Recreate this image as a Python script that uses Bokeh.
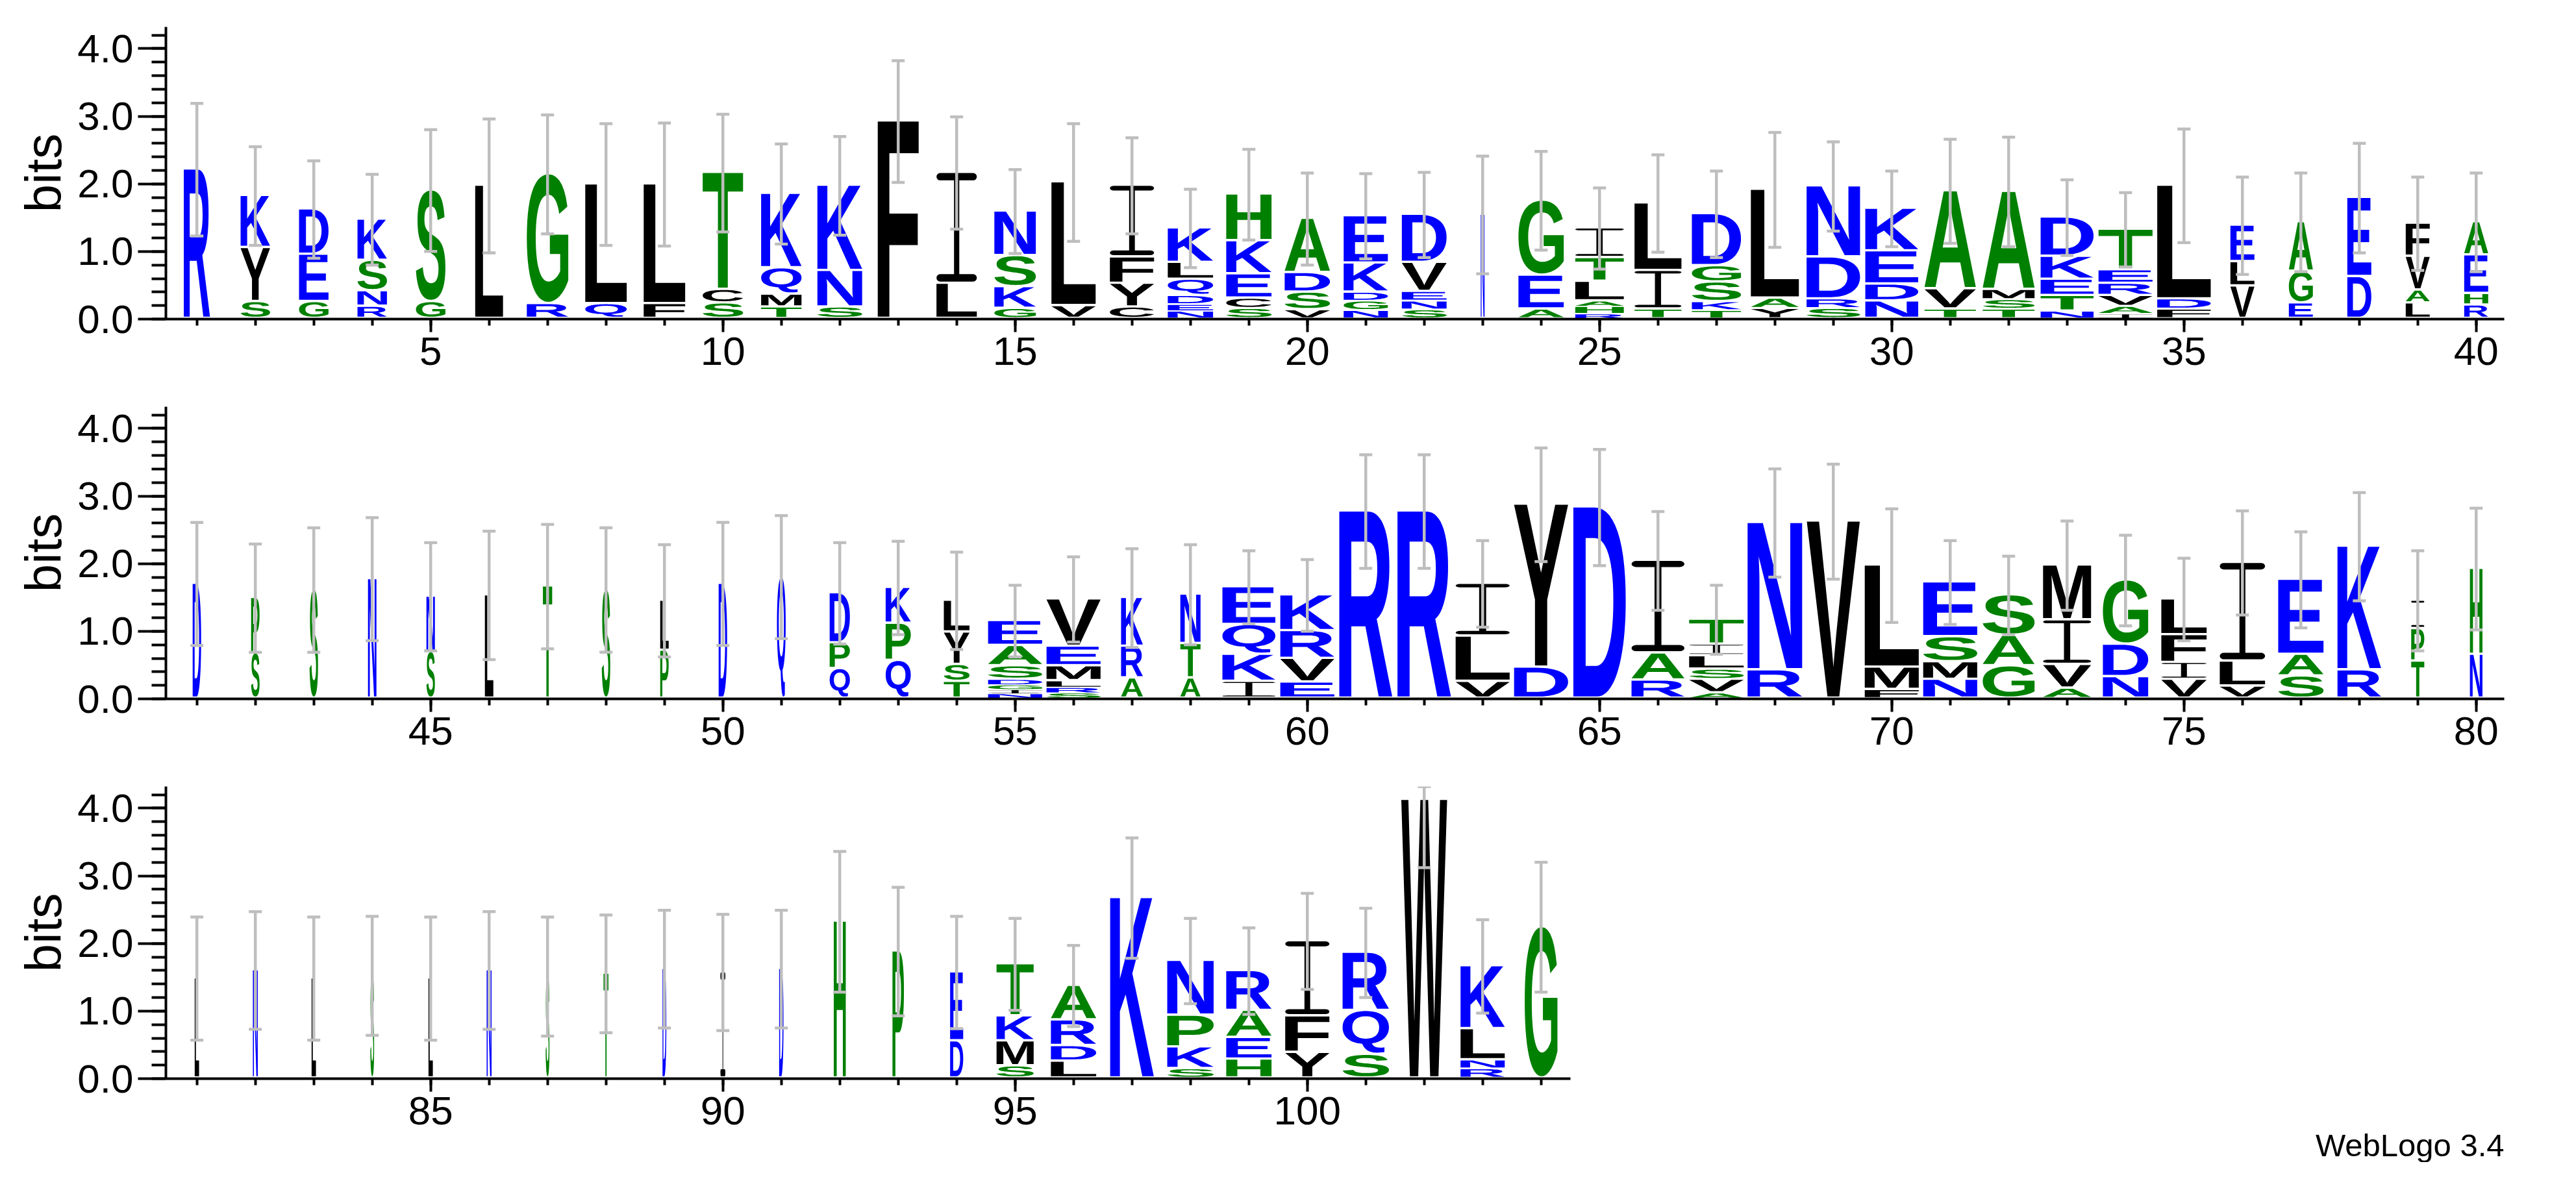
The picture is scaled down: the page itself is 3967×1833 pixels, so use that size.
import os, glob, struct, subprocess, math
import numpy as np
from bokeh.plotting import figure
from bokeh.layouts import column
from bokeh.models import (Range1d, SingleIntervalTicker, PrintfTickFormatter,
                          ColumnDataSource, Title)
from bokeh.embed import file_html
from bokeh.resources import INLINE

# ---------------------------------------------------------------- data
POSITIONS = list(range(1, 105))

# letters of each stack, bottom to top
STACK_LETTERS = [
    "R", "SYK", "GED", "RNSK", "GS", "L", "RG", "QL", "FL", "SCT",
    "TMQK", "SNK", "F", "LI", "GKSN", "VL", "CYFI", "NEDQLK", "SCEKH", "VSDA",
    "NGDKE", "SNEVD", "N", "AEG", "RHALTI", "TIL", "TKSGD", "YAL", "SRDN", "NDEK",
    "TVA", "TSMA", "NTEKD", "IAVRET", "FDL", "VLE", "EGA", "DE", "LAVF", "RHEA",
    "D", "SP", "S", "N", "SN", "L", "T", "S", "PL", "D",
    "Q", "QPD", "QPK", "TSYL", "NIGDSAE", "SRLMEV", "ARK", "ATN", "IKQE", "EVRK",
    "R", "R", "VLI", "DY", "D", "RAI", "AVSLIT", "RN", "V", "FML",
    "NMSE", "GAS", "AVIM", "NDG", "VIFL", "VLI", "SAE", "RK", "TPI", "NH",
    "L", "N", "L", "S", "L", "N", "S", "T", "D", "I",
    "D", "H", "P", "DE", "SMKT", "LDRA", "K", "SKPN", "HEAR", "YFI",
    "SQR", "W", "RNLK", "G",
]

# information (bits) of each letter, same order
STACK_HEIGHTS = [
    [2.21], [0.25, 0.80, 0.77], [0.25, 0.70, 0.67], [0.18, 0.23, 0.45, 0.61], [0.25, 1.65],
    [1.97], [0.22, 1.92], [0.22, 1.77], [0.22, 1.77], [0.23, 0.20, 1.73],
    [0.17, 0.19, 0.39, 1.10], [0.17, 0.54, 1.26], [2.92], [0.52, 1.64], [0.15, 0.32, 0.46, 0.66],
    [0.19, 1.83], [0.17, 0.35, 0.39, 1.06], [0.11, 0.10, 0.13, 0.24, 0.25, 0.51],
    [0.15, 0.15, 0.36, 0.49, 0.69], [0.13, 0.26, 0.29, 0.80],
    [0.12, 0.14, 0.13, 0.43, 0.70], [0.13, 0.13, 0.14, 0.43, 0.71], [1.54], [0.14, 0.50, 1.11],
    [0.07, 0.11, 0.08, 0.29, 0.35, 0.44], [0.14, 0.57, 1.00], [0.12, 0.13, 0.29, 0.24, 0.77],
    [0.15, 0.15, 1.61], [0.15, 0.14, 0.62, 1.05], [0.26, 0.25, 0.49, 0.63],
    [0.14, 0.30, 1.45], [0.14, 0.14, 0.15, 1.45], [0.11, 0.23, 0.24, 0.34, 0.58],
    [0.07, 0.11, 0.16, 0.18, 0.20, 0.60], [0.14, 0.15, 1.68], [0.48, 0.36, 0.54],
    [0.23, 0.47, 0.73], [0.62, 1.17], [0.23, 0.19, 0.50, 0.49], [0.20, 0.17, 0.57, 0.49],
    [1.70], [0.67, 0.82], [1.61], [1.77], [0.69, 0.82], [1.53], [1.66], [1.61], [0.71, 0.74], [1.70],
    [1.80], [0.44, 0.38, 0.74], [0.56, 0.55, 0.53], [0.25, 0.25, 0.48, 0.47],
    [0.07, 0.06, 0.07, 0.08, 0.20, 0.30, 0.37], [0.08, 0.08, 0.10, 0.22, 0.29, 0.70],
    [0.30, 0.47, 0.72], [0.30, 0.51, 0.73], [0.25, 0.40, 0.44, 0.56], [0.24, 0.35, 0.41, 0.53],
    [2.77], [2.77], [0.25, 0.67, 0.78], [0.46, 2.41], [2.83], [0.27, 0.40, 1.37],
    [0.08, 0.20, 0.15, 0.20, 0.17, 0.37], [0.42, 2.18], [2.62], [0.13, 0.33, 1.51],
    [0.28, 0.26, 0.37, 0.81], [0.48, 0.45, 0.60], [0.15, 0.35, 0.66, 0.81], [0.32, 0.48, 0.95],
    [0.28, 0.25, 0.41, 0.53], [0.18, 0.37, 1.46], [0.33, 0.32, 1.11], [0.42, 1.83],
    [0.55, 0.48, 0.42], [0.65, 1.27],
    [1.48], [1.60], [1.48], [1.52], [1.48], [1.60], [1.51], [1.55], [1.62], [1.57],
    [1.62], [2.32], [1.88], [0.55, 1.02], [0.18, 0.37, 0.37, 0.77], [0.25, 0.23, 0.38, 0.51],
    [2.67], [0.14, 0.32, 0.47, 0.81], [0.28, 0.32, 0.40, 0.59], [0.38, 0.54, 1.11],
    [0.35, 0.65, 0.86], [4.12], [0.14, 0.13, 0.46, 0.93], [2.24],
]

# relative stack width (fraction of non-gap symbols)
STACK_WIDTH = [
    0.48, 0.54, 0.54, 0.54, 0.54, 0.51, 0.76, 0.76, 0.76, 0.74,
    0.74, 0.82, 0.75, 0.74, 0.76, 0.81, 0.81, 0.83, 0.83, 0.83,
    0.81, 0.82, 0.07, 0.83, 0.89, 0.86, 0.90, 0.88, 0.98, 0.97,
    0.94, 0.95, 0.97, 0.99, 0.98, 0.44, 0.44, 0.44, 0.44, 0.44,
    0.155, 0.155, 0.155, 0.155, 0.155, 0.155, 0.17, 0.155, 0.155, 0.155,
    0.16, 0.37, 0.46, 0.47, 0.99, 0.99, 0.40, 0.37, 0.97, 0.99,
    0.97, 0.98, 0.99, 0.99, 0.96, 0.97, 1.00, 1.00, 0.97, 0.99,
    0.99, 0.95, 0.88, 0.83, 0.83, 0.83, 0.83, 0.80, 0.24, 0.23,
    0.08, 0.09, 0.08, 0.07, 0.08, 0.09, 0.07, 0.09, 0.07, 0.09,
    0.08, 0.22, 0.21, 0.24, 0.68, 0.83, 0.80, 0.85, 0.83, 0.81,
    0.85, 0.84, 0.81, 0.60,
]

# half length of the error bar (bits)
ERROR_BITS = [
    0.98, 0.73, 0.72, 0.67, 0.90, 0.99, 0.88, 0.90, 0.91, 0.87,
    0.74, 0.73, 0.90, 0.83, 0.62, 0.87, 0.71, 0.58, 0.67, 0.68,
    0.63, 0.63, 0.87, 0.73, 0.60, 0.72, 0.64, 0.85, 0.66, 0.56,
    0.77, 0.81, 0.56, 0.55, 0.84, 0.72, 0.73, 0.81, 0.69, 0.73,
    0.91, 0.80, 0.92, 0.91, 0.80, 0.95, 0.92, 0.92, 0.83, 0.91,
    0.91, 0.75, 0.69, 0.72, 0.53, 0.63, 0.73, 0.74, 0.54, 0.53,
    0.84, 0.84, 0.64, 0.84, 0.86, 0.73, 0.51, 0.80, 0.85, 0.84,
    0.62, 0.58, 0.66, 0.67, 0.61, 0.77, 0.71, 0.80, 0.74, 0.90,
    0.91, 0.87, 0.91, 0.88, 0.91, 0.87, 0.88, 0.87, 0.87, 0.86,
    0.87, 1.04, 0.95, 0.83, 0.68, 0.60, 0.89, 0.63, 0.64, 0.71,
    0.66, 1.00, 0.69, 0.96,
]

COLOR_GROUPS = {"RKDENQ": "#0000FF", "SGHTAP": "#008000", "YVMCLFIW": "#000000"}
Y_MAX = 4.32
ROW_RANGES = [(0.47, 40.48), (40.47, 80.48), (80.47, 120.48)]
ROW_SLICES = [(0, 40), (40, 80), (80, 104)]
CREDIT = "WebLogo 3.4"


def color_of(ch):
    for k, c in COLOR_GROUPS.items():
        if ch in k:
            return c
    return "#000000"


# ---------------------------------------------------------------- font outlines
def find_font():
    pats = ["/usr/share/fonts/**/LiberationSans-Bold.ttf",
            "/usr/local/share/fonts/**/LiberationSans-Bold.ttf",
            os.path.expanduser("~/.fonts/**/LiberationSans-Bold.ttf"),
            os.path.expanduser("~/.local/share/fonts/**/LiberationSans-Bold.ttf")]
    for pat in pats:
        r = sorted(glob.glob(pat, recursive=True))
        if r:
            return r[0]
    try:
        out = subprocess.run(["fc-match", "-f", "%{file}", "Liberation Sans:style=Bold"],
                             capture_output=True, text=True, timeout=20).stdout.strip()
        if out and os.path.exists(out) and out.lower().endswith(".ttf"):
            return out
    except Exception:
        pass
    for pat in ["/usr/share/fonts/**/DejaVuSans-Bold.ttf", "/usr/share/fonts/**/*Bold.ttf"]:
        r = sorted(glob.glob(pat, recursive=True))
        if r:
            return r[0]
    return None


class TTF:
    def __init__(self, path):
        d = open(path, "rb").read()
        self.d = d
        n = struct.unpack(">H", d[4:6])[0]
        self.t = {}
        for i in range(n):
            tag, cs, off, ln = struct.unpack(">4sIII", d[12 + 16 * i:28 + 16 * i])
            self.t[tag.decode("latin1")] = off
        h = self.t["head"]
        self.locfmt = struct.unpack(">h", d[h + 50:h + 52])[0]
        m = self.t["maxp"]
        self.ng = struct.unpack(">H", d[m + 4:m + 6])[0]
        lo = self.t["loca"]
        if self.locfmt == 0:
            self.loca = [2 * x for x in struct.unpack(">%dH" % (self.ng + 1), d[lo:lo + 2 * (self.ng + 1)])]
        else:
            self.loca = list(struct.unpack(">%dI" % (self.ng + 1), d[lo:lo + 4 * (self.ng + 1)]))
        self.glyf = self.t["glyf"]

    def gid(self, ch):
        d = self.d
        base = self.t["cmap"]
        n = struct.unpack(">H", d[base + 2:base + 4])[0]
        sub = None
        for i in range(n):
            pid, eid, off = struct.unpack(">HHI", d[base + 4 + 8 * i:base + 12 + 8 * i])
            fmt = struct.unpack(">H", d[base + off:base + off + 2])[0]
            if fmt == 4 and ((pid == 3 and eid == 1) or pid == 0):
                sub = base + off
                break
        s = sub
        segx2 = struct.unpack(">H", d[s + 6:s + 8])[0]
        seg = segx2 // 2
        ends = struct.unpack(">%dH" % seg, d[s + 14:s + 14 + segx2])
        starts = struct.unpack(">%dH" % seg, d[s + 16 + segx2:s + 16 + 2 * segx2])
        deltas = struct.unpack(">%dh" % seg, d[s + 16 + 2 * segx2:s + 16 + 3 * segx2])
        rp = s + 16 + 3 * segx2
        roffs = struct.unpack(">%dH" % seg, d[rp:rp + segx2])
        c = ord(ch)
        for k in range(seg):
            if starts[k] <= c <= ends[k]:
                if roffs[k] == 0:
                    return (c + deltas[k]) & 0xFFFF
                addr = rp + 2 * k + roffs[k] + 2 * (c - starts[k])
                g = struct.unpack(">H", d[addr:addr + 2])[0]
                return (g + deltas[k]) & 0xFFFF if g else 0
        return 0

    def contours(self, g, dx=0, dy=0):
        d = self.d
        if self.loca[g + 1] == self.loca[g]:
            return []
        off = self.glyf + self.loca[g]
        nc = struct.unpack(">h", d[off:off + 2])[0]
        if nc < 0:
            res = []
            p = off + 10
            while True:
                flags, cg = struct.unpack(">HH", d[p:p + 4]); p += 4
                if flags & 1:
                    a1, a2 = struct.unpack(">hh", d[p:p + 4]); p += 4
                else:
                    a1, a2 = struct.unpack(">bb", d[p:p + 2]); p += 2
                if flags & 8:
                    p += 2
                elif flags & 0x40:
                    p += 4
                elif flags & 0x80:
                    p += 8
                ox, oy = (a1, a2) if flags & 2 else (0, 0)
                res += self.contours(cg, dx + ox, dy + oy)
                if not flags & 0x20:
                    break
            return res
        p = off + 10
        ends = struct.unpack(">%dH" % nc, d[p:p + 2 * nc]); p += 2 * nc
        il = struct.unpack(">H", d[p:p + 2])[0]; p += 2 + il
        npts = ends[-1] + 1
        flags = []
        while len(flags) < npts:
            f = d[p]; p += 1
            flags.append(f)
            if f & 8:
                r = d[p]; p += 1
                flags.extend([f] * r)
        flags = flags[:npts]
        xs = []
        x = 0
        for f in flags:
            if f & 2:
                v = d[p]; p += 1
                x += v if f & 16 else -v
            elif not f & 16:
                x += struct.unpack(">h", d[p:p + 2])[0]; p += 2
            xs.append(x + dx)
        ys = []
        y = 0
        for f in flags:
            if f & 4:
                v = d[p]; p += 1
                y += v if f & 32 else -v
            elif not f & 32:
                y += struct.unpack(">h", d[p:p + 2])[0]; p += 2
            ys.append(y + dy)
        res = []
        st = 0
        for e in ends:
            pts = [(xs[i], ys[i], bool(flags[i] & 1)) for i in range(st, e + 1)]
            st = e + 1
            fl = flatten(pts)
            if fl and len(fl) >= 3:
                res.append(np.array(fl, dtype=float))
        return res


def flatten(pts, steps=7):
    n = len(pts)
    if n == 0:
        return None
    exp = []
    for i in range(n):
        x, y, o = pts[i]
        exp.append((x, y, o))
        nx, ny, no = pts[(i + 1) % n]
        if not o and not no:
            exp.append(((x + nx) / 2.0, (y + ny) / 2.0, True))
    k = next((i for i, q in enumerate(exp) if q[2]), None)
    if k is None:
        return None
    exp = exp[k:] + exp[:k]
    m = len(exp)
    out = []
    i = 0
    while i < m:
        x, y, _ = exp[i]
        out.append((x, y))
        nx, ny, no = exp[(i + 1) % m]
        if not no:
            ex, ey, _ = exp[(i + 2) % m]
            for s in range(1, steps):
                t = s / steps
                out.append(((1 - t) ** 2 * x + 2 * (1 - t) * t * nx + t * t * ex,
                            (1 - t) ** 2 * y + 2 * (1 - t) * t * ny + t * t * ey))
            i += 2
        else:
            i += 1
    return out


def signed_area(r):
    x, y = r[:, 0], r[:, 1]
    return 0.5 * float(np.sum(x * np.roll(y, -1) - np.roll(x, -1) * y))


def inside(pt, r):
    x, y = pt
    c = False
    n = len(r)
    j = n - 1
    for i in range(n):
        xi, yi = r[i]
        xj, yj = r[j]
        if (yi > y) != (yj > y) and x < (xj - xi) * (y - yi) / (yj - yi + 1e-12) + xi:
            c = not c
        j = i
    return c


def i_beam():
    # WebLogo draws "I" as an I-beam with rounded bar ends (unit box)
    t, s, rx = 0.068, 0.13, 0.09
    pts = []

    def arc(cx, cy, a0, a1, n=8):
        for k in range(n + 1):
            a = math.radians(a0 + (a1 - a0) * k / n)
            pts.append((cx + rx * math.cos(a), cy + (t / 2) * math.sin(a)))
    arc(1 - rx, t / 2, -90, 90)
    pts += [(0.5 + s / 2, t), (0.5 + s / 2, 1 - t)]
    arc(1 - rx, 1 - t / 2, -90, 90)
    arc(rx, 1 - t / 2, 90, 270)
    pts += [(0.5 - s / 2, 1 - t), (0.5 - s / 2, t)]
    arc(rx, t / 2, 90, 270)
    return [[np.array(pts)]]


def glyph_shapes(font, ch):
    """list of polygons (outer ring + holes), normalised to the unit box"""
    if ch == "I":
        return i_beam()
    rings = font.contours(font.gid(ch))
    allp = np.vstack(rings)
    x0, y0 = allp.min(axis=0)
    x1, y1 = allp.max(axis=0)
    rings = [np.column_stack(((r[:, 0] - x0) / (x1 - x0), (r[:, 1] - y0) / (y1 - y0))) for r in rings]
    areas = [signed_area(r) for r in rings]
    big = int(np.argmax(np.abs(areas)))
    sign = np.sign(areas[big])
    outers = [i for i, a in enumerate(areas) if np.sign(a) == sign]
    holes = [i for i, a in enumerate(areas) if np.sign(a) != sign]
    polys = {i: [rings[i]] for i in outers}
    for h in holes:
        host = next((o for o in outers if inside(tuple(rings[h][0]), rings[o])), outers[0])
        polys[host].append(rings[h])
    return [polys[i] for i in outers]


font_path = find_font()
FONT = TTF(font_path) if font_path else None
SHAPES = {}
if FONT is not None:
    for ch in set("".join(STACK_LETTERS)):
        SHAPES[ch] = glyph_shapes(FONT, ch)

# ---------------------------------------------------------------- figures
FONT_NAME = "Liberation Sans"
GRAY = "#BEBEBE"


def make_row(r):
    xs0, xs1 = ROW_RANGES[r]
    top = 41 if r == 0 else 10
    bottom = 0 if r == 2 else 125
    p = figure(frame_width=3601, frame_height=450,
               x_range=Range1d(xs0, xs1), y_range=Range1d(0, Y_MAX),
               output_backend="svg", toolbar_location=None,
               min_border_left=255, min_border_right=60,
               min_border_top=top, min_border_bottom=bottom)
    p.xgrid.visible = False
    p.ygrid.visible = False
    p.outline_line_color = None
    p.background_fill_color = "white"
    p.border_fill_color = "white"

    xa = p.xaxis[0]
    xa.ticker = SingleIntervalTicker(interval=5, num_minor_ticks=5)
    xa.axis_line_width = 4
    xa.axis_line_color = "black"
    xa.major_tick_line_width = 4
    xa.minor_tick_line_width = 4
    xa.major_tick_out = 20
    xa.major_tick_in = 0
    xa.minor_tick_out = 10
    xa.minor_tick_in = 0
    xa.major_label_text_font = FONT_NAME
    xa.major_label_text_font_size = "62px"
    xa.major_label_text_color = "black"
    xa.major_label_standoff = 8
    if r == 2:
        xa.bounds = (xs0, 104.5)

    ya = p.yaxis[0]
    ya.ticker = SingleIntervalTicker(interval=1, num_minor_ticks=5)
    ya.formatter = PrintfTickFormatter(format="%.1f")
    ya.axis_line_width = 4
    ya.axis_line_color = "black"
    ya.major_tick_line_width = 4
    ya.minor_tick_line_width = 4
    ya.major_tick_out = 43
    ya.major_tick_in = 0
    ya.minor_tick_out = 22
    ya.minor_tick_in = 0
    ya.major_label_text_font = FONT_NAME
    ya.major_label_text_font_size = "62px"
    ya.major_label_text_color = "black"
    ya.major_label_standoff = 7
    ya.axis_label = "bits"
    ya.axis_label_text_font = FONT_NAME
    ya.axis_label_text_font_size = "78px"
    ya.axis_label_text_font_style = "normal"
    ya.axis_label_text_color = "black"
    ya.axis_label_standoff = 5

    i0, i1 = ROW_SLICES[r]
    data = {c: {"xs": [], "ys": []} for c in COLOR_GROUPS.values()}
    txt = {"x": [], "y": [], "t": [], "c": [], "fs": []}
    eb_x, eb_lo, eb_hi = [], [], []
    for k in range(i0, i1):
        pos = POSITIONS[k]
        half = 0.4667 * STACK_WIDTH[k]
        ybase = 0.0
        for ch, h in zip(STACK_LETTERS[k], STACK_HEIGHTS[k]):
            gap = min(0.035, 0.2 * h)
            a, b = ybase + gap, ybase + h
            col = color_of(ch)
            if FONT is not None:
                for poly in SHAPES[ch]:
                    data[col]["xs"].append([[np.round(pos - half + 2 * half * ring[:, 0], 4).tolist() for ring in poly]])
                    data[col]["ys"].append([[np.round(a + (b - a) * ring[:, 1], 4).tolist() for ring in poly]])
            else:
                txt["x"].append(pos); txt["y"].append(a); txt["t"].append(ch)
                txt["c"].append(col); txt["fs"].append("%dpx" % max(4, int((b - a) * 104 / 0.72)))
            ybase += h
        total = sum(STACK_HEIGHTS[k])
        e = ERROR_BITS[k]
        eb_x.append(pos)
        eb_lo.append(max(0.0, total - e))
        eb_hi.append(min(Y_MAX, total + e))

    for col, dd in data.items():
        if dd["xs"]:
            p.multi_polygons(xs="xs", ys="ys", source=ColumnDataSource(dd),
                             fill_color=col, line_color=None)
    if txt["x"]:
        p.text(x="x", y="y", text="t", text_color="c", text_font_size="fs",
               text_align="center", text_baseline="bottom", source=ColumnDataSource(txt))

    ex = np.array(eb_x, dtype=float)
    lo = np.array(eb_lo)
    hi = np.array(eb_hi)
    cap = 0.111
    p.segment(x0=ex, y0=lo, x1=ex, y1=hi, line_color=GRAY, line_width=4.5, line_cap="butt")
    p.segment(x0=ex - cap, y0=lo, x1=ex + cap, y1=lo, line_color=GRAY, line_width=4.5, line_cap="butt")
    p.segment(x0=ex - cap, y0=hi, x1=ex + cap, y1=hi, line_color=GRAY, line_width=4.5, line_cap="butt")

    if r == 2:
        p.add_layout(Title(text=CREDIT, align="right", text_font=FONT_NAME,
                           text_font_size="49px", text_font_style="normal",
                           text_color="black", standoff=0, offset=0), "below")
    return p


rows = [make_row(r) for r in range(3)]
layout = column(*rows, spacing=0)
open("out.html", "w").write(file_html(layout, INLINE))
